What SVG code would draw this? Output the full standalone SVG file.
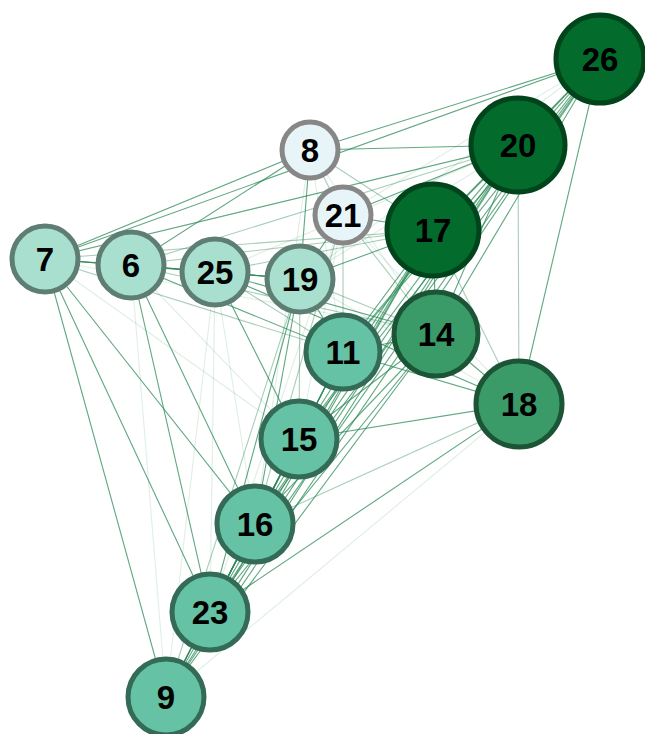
<svg xmlns="http://www.w3.org/2000/svg" width="645" height="734" viewBox="0 0 645 734">
<style>
.e line{stroke:#2a8a55;stroke-width:1.1;fill:none}
.e .s{stroke-opacity:0.75}
.e .m{stroke-opacity:0.42}
.e .f{stroke-opacity:0.15}
.n circle{stroke-width:5}
.n text{font-family:"Liberation Sans",Arial,sans-serif;font-weight:bold;font-size:33px;fill:#000;text-anchor:middle;dominant-baseline:central}
.c0 circle{fill:#e8f5f8;stroke:#878787}
.c1 circle{fill:#a8dfcf;stroke:#5e7e74}
.c2 circle{fill:#66c2a4;stroke:#336b57}
.c3 circle{fill:#3a9b69;stroke:#1c5535}
.c4 circle{fill:#036c2d;stroke:#00441b}
</style>
<rect width="645" height="734" fill="#ffffff"/>
<g id="edges" class="e">
<line class="s" x1="45" y1="259" x2="310" y2="150"/>
<line class="s" x1="45" y1="259" x2="518" y2="145"/>
<line class="s" x1="45" y1="259" x2="600" y2="59"/>
<line class="s" x1="45" y1="259" x2="131" y2="265"/>
<line class="s" x1="45" y1="259" x2="215" y2="272"/>
<line class="s" x1="45" y1="259" x2="300" y2="279"/>
<line class="s" x1="45" y1="259" x2="166" y2="697"/>
<line class="s" x1="45" y1="259" x2="210" y2="612"/>
<line class="s" x1="45" y1="259" x2="255" y2="524"/>
<line class="m" x1="45" y1="259" x2="343" y2="352"/>
<line class="m" x1="45" y1="259" x2="433" y2="230"/>
<line class="f" x1="45" y1="259" x2="299" y2="439"/>
<line class="f" x1="45" y1="259" x2="436" y2="334"/>
<line class="s" x1="131" y1="265" x2="310" y2="150"/>
<line class="s" x1="131" y1="265" x2="210" y2="612"/>
<line class="s" x1="131" y1="265" x2="255" y2="524"/>
<line class="s" x1="131" y1="265" x2="343" y2="352"/>
<line class="s" x1="131" y1="265" x2="215" y2="272"/>
<line class="s" x1="131" y1="265" x2="300" y2="279"/>
<line class="m" x1="131" y1="265" x2="433" y2="230"/>
<line class="m" x1="131" y1="265" x2="436" y2="334"/>
<line class="m" x1="131" y1="265" x2="518" y2="145"/>
<line class="f" x1="131" y1="265" x2="166" y2="697"/>
<line class="f" x1="131" y1="265" x2="299" y2="439"/>
<line class="s" x1="215" y1="272" x2="299" y2="439"/>
<line class="s" x1="215" y1="272" x2="300" y2="279"/>
<line class="s" x1="215" y1="272" x2="436" y2="334"/>
<line class="s" x1="215" y1="272" x2="519" y2="404"/>
<line class="m" x1="215" y1="272" x2="433" y2="230"/>
<line class="m" x1="215" y1="272" x2="343" y2="352"/>
<line class="f" x1="215" y1="272" x2="166" y2="697"/>
<line class="f" x1="215" y1="272" x2="210" y2="612"/>
<line class="f" x1="215" y1="272" x2="255" y2="524"/>
<line class="f" x1="215" y1="272" x2="518" y2="145"/>
<line class="s" x1="300" y1="279" x2="310" y2="150"/>
<line class="s" x1="300" y1="279" x2="255" y2="524"/>
<line class="s" x1="300" y1="279" x2="210" y2="612"/>
<line class="s" x1="300" y1="279" x2="343" y2="352"/>
<line class="s" x1="300" y1="279" x2="433" y2="230"/>
<line class="m" x1="300" y1="279" x2="436" y2="334"/>
<line class="m" x1="300" y1="279" x2="299" y2="439"/>
<line class="m" x1="300" y1="279" x2="166" y2="697"/>
<line class="f" x1="300" y1="279" x2="519" y2="404"/>
<line class="f" x1="300" y1="279" x2="518" y2="145"/>
<line class="f" x1="300" y1="279" x2="600" y2="59"/>
<line class="s" x1="310" y1="150" x2="518" y2="145"/>
<line class="s" x1="310" y1="150" x2="600" y2="59"/>
<line class="m" x1="310" y1="150" x2="343" y2="215"/>
<line class="m" x1="310" y1="150" x2="433" y2="230"/>
<line class="f" x1="310" y1="150" x2="343" y2="352"/>
<line class="f" x1="310" y1="150" x2="436" y2="334"/>
<line class="f" x1="310" y1="150" x2="255" y2="524"/>
<line class="s" x1="343" y1="215" x2="433" y2="230"/>
<line class="s" x1="343" y1="215" x2="518" y2="145"/>
<line class="s" x1="343" y1="215" x2="300" y2="279"/>
<line class="m" x1="343" y1="215" x2="343" y2="352"/>
<line class="m" x1="343" y1="215" x2="436" y2="334"/>
<line class="m" x1="343" y1="215" x2="255" y2="524"/>
<line class="f" x1="343" y1="215" x2="299" y2="439"/>
<line class="f" x1="343" y1="215" x2="210" y2="612"/>
<line class="f" x1="343" y1="215" x2="519" y2="404"/>
<line class="f" x1="343" y1="215" x2="600" y2="59"/>
<line class="s" x1="518" y1="145" x2="433" y2="230"/>
<line class="s" x1="518" y1="145" x2="436" y2="334"/>
<line class="s" x1="518" y1="145" x2="343" y2="352"/>
<line class="s" x1="518" y1="145" x2="299" y2="439"/>
<line class="s" x1="518" y1="145" x2="255" y2="524"/>
<line class="s" x1="518" y1="145" x2="210" y2="612"/>
<line class="s" x1="518" y1="145" x2="166" y2="697"/>
<line class="m" x1="518" y1="145" x2="519" y2="404"/>
<line class="s" x1="600" y1="59" x2="518" y2="145"/>
<line class="s" x1="600" y1="59" x2="433" y2="230"/>
<line class="s" x1="600" y1="59" x2="436" y2="334"/>
<line class="s" x1="600" y1="59" x2="519" y2="404"/>
<line class="s" x1="600" y1="59" x2="343" y2="352"/>
<line class="s" x1="600" y1="59" x2="299" y2="439"/>
<line class="s" x1="600" y1="59" x2="255" y2="524"/>
<line class="s" x1="600" y1="59" x2="210" y2="612"/>
<line class="s" x1="600" y1="59" x2="166" y2="697"/>
<line class="s" x1="433" y1="230" x2="436" y2="334"/>
<line class="s" x1="433" y1="230" x2="343" y2="352"/>
<line class="s" x1="433" y1="230" x2="299" y2="439"/>
<line class="s" x1="433" y1="230" x2="255" y2="524"/>
<line class="s" x1="433" y1="230" x2="210" y2="612"/>
<line class="s" x1="433" y1="230" x2="166" y2="697"/>
<line class="m" x1="433" y1="230" x2="519" y2="404"/>
<line class="s" x1="436" y1="334" x2="343" y2="352"/>
<line class="s" x1="436" y1="334" x2="519" y2="404"/>
<line class="s" x1="436" y1="334" x2="299" y2="439"/>
<line class="s" x1="436" y1="334" x2="255" y2="524"/>
<line class="s" x1="436" y1="334" x2="210" y2="612"/>
<line class="s" x1="436" y1="334" x2="166" y2="697"/>
<line class="s" x1="519" y1="404" x2="299" y2="439"/>
<line class="s" x1="519" y1="404" x2="210" y2="612"/>
<line class="s" x1="519" y1="404" x2="343" y2="352"/>
<line class="m" x1="519" y1="404" x2="255" y2="524"/>
<line class="f" x1="519" y1="404" x2="166" y2="697"/>
<line class="s" x1="343" y1="352" x2="299" y2="439"/>
<line class="s" x1="343" y1="352" x2="255" y2="524"/>
<line class="s" x1="343" y1="352" x2="210" y2="612"/>
<line class="m" x1="343" y1="352" x2="166" y2="697"/>
<line class="s" x1="299" y1="439" x2="255" y2="524"/>
<line class="s" x1="299" y1="439" x2="210" y2="612"/>
<line class="s" x1="299" y1="439" x2="166" y2="697"/>
<line class="s" x1="255" y1="524" x2="210" y2="612"/>
<line class="s" x1="255" y1="524" x2="166" y2="697"/>
<line class="s" x1="210" y1="612" x2="166" y2="697"/>
</g>
<g id="node-7" class="n c1"><circle cx="45" cy="259" r="33"/><text x="45" y="259">7</text></g>
<g id="node-6" class="n c1"><circle cx="131" cy="265" r="33"/><text x="131" y="265">6</text></g>
<g id="node-25" class="n c1"><circle cx="215" cy="272" r="33"/><text x="215" y="272">25</text></g>
<g id="node-19" class="n c1"><circle cx="300" cy="279" r="33"/><text x="300" y="279">19</text></g>
<g id="node-8" class="n c0"><circle cx="310" cy="150" r="28"/><text x="310" y="150">8</text></g>
<g id="node-21" class="n c0"><circle cx="343" cy="215" r="28"/><text x="343" y="215">21</text></g>
<g id="node-11" class="n c2"><circle cx="343" cy="352" r="37"/><text x="343" y="352">11</text></g>
<g id="node-15" class="n c2"><circle cx="299" cy="439" r="38"/><text x="299" y="439">15</text></g>
<g id="node-16" class="n c2"><circle cx="255" cy="524" r="38"/><text x="255" y="524">16</text></g>
<g id="node-23" class="n c2"><circle cx="210" cy="612" r="38"/><text x="210" y="612">23</text></g>
<g id="node-9" class="n c2"><circle cx="166" cy="697" r="38"/><text x="166" y="697">9</text></g>
<g id="node-14" class="n c3"><circle cx="436" cy="334" r="42"/><text x="436" y="334">14</text></g>
<g id="node-18" class="n c3"><circle cx="519" cy="404" r="43"/><text x="519" y="404">18</text></g>
<g id="node-17" class="n c4"><circle cx="433" cy="230" r="46"/><text x="433" y="230">17</text></g>
<g id="node-20" class="n c4"><circle cx="518" cy="145" r="47"/><text x="518" y="145">20</text></g>
<g id="node-26" class="n c4"><circle cx="600" cy="59" r="44"/><text x="600" y="59">26</text></g>
</svg>
